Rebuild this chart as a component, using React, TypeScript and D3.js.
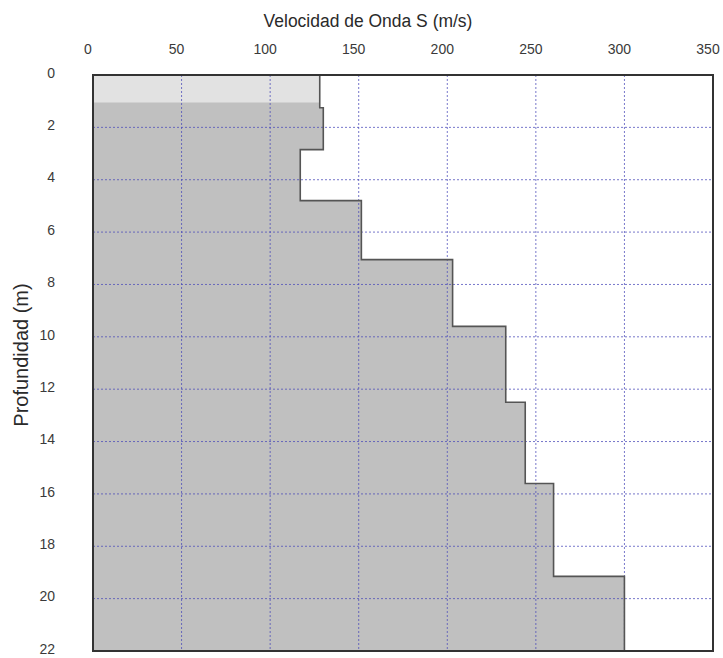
import React from "react";
import * as d3 from "d3";

// Shear-wave velocity profile: layer boundaries (m) and velocity per layer (m/s)
const layerDepths = [0, 1.25, 2.85, 4.8, 7.05, 9.6, 12.5, 15.6, 19.15, 22];
const layerVelocities = [128, 130, 117, 151.5, 203, 233, 244, 260, 300];
// Upper shallow zone shown with a lighter fill
const shallowZoneDepth = 1.05;

const velocityTicks = [0, 50, 100, 150, 200, 250, 300, 350];
const depthTicks = [0, 2, 4, 6, 8, 10, 12, 14, 16, 18, 20, 22];

const xTitle = "Velocidad de Onda S (m/s)";
const yTitle = "Profundidad (m)";

const W = 723;
const H = 658;
const margin = { left: 93, right: 10, top: 75, bottom: 7 };

export default function App() {
  const x = d3
    .scaleLinear()
    .domain([0, 350])
    .range([margin.left, W - margin.right]);
  const y = d3
    .scaleLinear()
    .domain([0, 22])
    .range([margin.top, H - margin.bottom]);

  // Step outline: vertical segment for each layer, horizontal jumps at boundaries
  const pts: [number, number][] = [];
  layerVelocities.forEach((v, i) => {
    pts.push([v, layerDepths[i]]);
    pts.push([v, layerDepths[i + 1]]);
  });
  const line = d3
    .line<[number, number]>()
    .x((d) => x(d[0]))
    .y((d) => y(d[1]));
  const areaPts: [number, number][] = [[0, 0], ...pts, [0, 22]];
  const areaPath = line(areaPts) + "Z";
  const outlinePath = line(pts);

  const font = "'Liberation Sans', Arial, sans-serif";
  const gridColor = "#4a4ab8";
  const x0 = x(0);
  const x1 = x(350);
  const y0 = y(0);
  const y1 = y(22);

  return (
    <svg
      width={W}
      height={H}
      style={{ position: "absolute", left: 0, top: 0, background: "#fff" }}
    >
      <defs>
        <clipPath id="profileClip">
          <path d={areaPath} />
        </clipPath>
      </defs>

      {/* filled profile */}
      <path d={areaPath} fill="#c0c0c0" />
      <rect
        x={x0}
        y={y0}
        width={x1 - x0}
        height={y(shallowZoneDepth) - y0}
        fill="#e2e2e2"
        clipPath="url(#profileClip)"
      />

      {/* grid */}
      {velocityTicks
        .filter((t) => t > 0 && t < 350)
        .map((t) => (
          <line
            key={"gx" + t}
            x1={x(t)}
            x2={x(t)}
            y1={y0}
            y2={y1}
            stroke={gridColor}
            strokeOpacity={0.75}
            strokeWidth={1}
            strokeDasharray="2,2"
          />
        ))}
      {depthTicks
        .filter((t) => t > 0 && t < 22)
        .map((t) => (
          <line
            key={"gy" + t}
            x1={x0}
            x2={x1}
            y1={y(t)}
            y2={y(t)}
            stroke={gridColor}
            strokeOpacity={0.75}
            strokeWidth={1}
            strokeDasharray="2,2"
          />
        ))}

      {/* profile outline */}
      <path d={outlinePath ?? ""} fill="none" stroke="#555" strokeWidth={1.6} />

      {/* frame */}
      <rect
        x={x0}
        y={y0}
        width={x1 - x0}
        height={y1 - y0}
        fill="none"
        stroke="#333"
        strokeWidth={2}
      />

      {/* tick labels */}
      {velocityTicks.map((t) => (
        <text
          key={"lx" + t}
          x={x(t) - 5}
          y={50}
          textAnchor="middle"
          dominantBaseline="middle"
          fontFamily={font}
          fontSize={14}
          fill="#3a3a3a"
        >
          {t}
        </text>
      ))}
      {depthTicks.map((t) => (
        <text
          key={"ly" + t}
          x={55}
          y={y(t) - 1}
          textAnchor="end"
          dominantBaseline="middle"
          fontFamily={font}
          fontSize={14}
          fill="#3a3a3a"
        >
          {t}
        </text>
      ))}

      {/* axis titles */}
      <text
        transform="translate(368, 22) scale(0.92, 1)"
        textAnchor="middle"
        dominantBaseline="middle"
        fontFamily={font}
        fontSize={19}
        fill="#2a2a2a"
      >
        {xTitle}
      </text>
      <text
        transform="translate(23, 355) rotate(-90)"
        textAnchor="middle"
        dominantBaseline="middle"
        fontFamily={font}
        fontSize={20}
        fill="#2a2a2a"
      >
        {yTitle}
      </text>
    </svg>
  );
}
